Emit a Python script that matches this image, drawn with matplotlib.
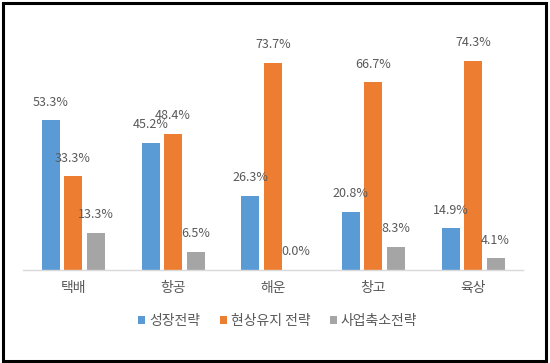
import numpy as np
import matplotlib
matplotlib.use("Agg")
import matplotlib.pyplot as plt
from matplotlib.patches import Rectangle

plt.rcParams['font.family'] = ['Noto Sans CJK KR', 'DejaVu Sans']

categories = ['택배', '항공', '해운', '창고', '육상']
series_names = ['성장전략', '현상유지 전략', '사업축소전략']
growth = [53.3, 45.2, 26.3, 20.8, 14.9]
keep = [33.3, 48.4, 73.7, 66.7, 74.3]
shrink = [13.3, 6.5, 0.0, 8.3, 4.1]

colors = ['#5B9BD5', '#ED7D31', '#A5A5A5']
text_color = '#595959'

fig = plt.figure(figsize=(5.5, 3.63), dpi=100)
ax = fig.add_axes([23 / 550, 93 / 363, 500 / 550, 225 / 363])

x = np.arange(len(categories))
width = 0.18
offsets = [-0.225, 0.0, 0.225]

for vals, off, col, name in zip([growth, keep, shrink], offsets, colors, series_names):
    bars = ax.bar(x + off, vals, width, color=col, label=name)
    for b, v in zip(bars, vals):
        ax.annotate(f'{v:.1f}%', (b.get_x() + b.get_width() / 2, v),
                    xytext=(0, 13), textcoords='offset points',
                    ha='center', va='center', fontsize=9, color=text_color)

ax.set_xlim(-0.5, len(categories) - 0.5)
ax.set_ylim(0, 80)
ax.set_xticks(x)
ax.set_xticklabels(categories, fontsize=10, color=text_color)
ax.tick_params(axis='x', length=0, pad=8)
ax.set_yticks([])
for s in ['top', 'right', 'left']:
    ax.spines[s].set_visible(False)
ax.spines['bottom'].set_color('#D9D9D9')
ax.spines['bottom'].set_linewidth(1)

leg = fig.legend(loc='center', bbox_to_anchor=(0.505, 0.116), ncol=3, frameon=False,
                 fontsize=10, handlelength=0.5, handleheight=0.5,
                 handletextpad=0.3, columnspacing=1.4)
for t in leg.get_texts():
    t.set_color(text_color)

# black frame around the picture
fig.patches.append(Rectangle((3 / 550, 2 / 363), 543 / 550, 358 / 363,
                             transform=fig.transFigure, fill=False,
                             edgecolor='black', linewidth=2.2))

fig.savefig('out.png', dpi=100)
